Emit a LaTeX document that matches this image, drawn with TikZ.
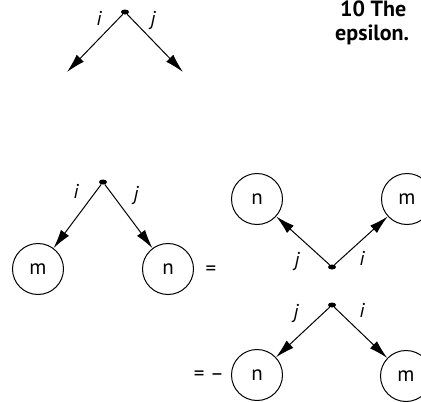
\documentclass[tikz,border=0pt]{standalone}
\usepackage{fontspec}
\setmainfont{PT Sans}
\usetikzlibrary{arrows.meta,shapes.geometric}
\tikzset{
  vtx/.style={ellipse, fill, inner sep=0pt, minimum width=8pt, minimum height=5pt},
  idx/.style={font=\fontsize{20}{24}\selectfont\itshape, inner sep=1pt},
  ket/.style={circle, draw, line width=1pt, minimum size=51pt, inner sep=0pt, font=\fontsize{21}{25}\selectfont},
  arr/.style={-{Latex[length=19pt,width=10pt]}, line width=1pt},
  eqsign/.style={font=\fontsize{21}{25}\selectfont, inner sep=0pt},
  captext/.style={anchor=base west, font=\fontsize{22}{26}\selectfont\bfseries, inner sep=0pt}
}
\begin{document}
\begin{tikzpicture}[x=1pt,y=-1pt]
  \useasboundingbox (0,0) rectangle (421,402);
  % caption
  \node[captext] (cap1) at (340,16) {10 The};
  \node[captext] (cap2) at (335,40) {epsilon.};
  % epsilon alone
  \node[vtx] (v0) at (125,12) {};
  \coordinate (l0) at (67,72);
  \coordinate (r0) at (183,72);
  \draw[arr] (v0) -- (l0);
  \draw[arr] (v0) -- (r0);
  \node[idx] (i0) at (99,18) {i};
  \node[idx] (j0) at (153,20) {j};
  % left side
  \node[vtx] (v1) at (103,182) {};
  \node[ket] (m1) at (38,269) {m};
  \node[ket] (n1) at (168,269) {n};
  \draw[arr] (v1) -- (m1);
  \draw[arr] (v1) -- (n1);
  \node[idx] (i1) at (76,191) {i};
  \node[idx] (j1) at (136,195) {j};
  \node[eqsign] (eq1) at (211,271) {=};
  % first right-hand term
  \node[vtx] (v2) at (332,267) {};
  \node[ket] (n2) at (257,199) {n};
  \node[ket] (m2) at (407,199) {m};
  \draw[arr] (v2) -- (n2);
  \draw[arr] (v2) -- (m2);
  \node[idx] (j2) at (297,261) {j};
  \node[idx] (i2) at (362,258) {i};
  % second right-hand term
  \node[vtx] (v3) at (332,305) {};
  \node[ket] (n3) at (257,375) {n};
  \node[ket] (m3) at (406,376) {m};
  \draw[arr] (v3) -- (n3);
  \draw[arr] (v3) -- (m3);
  \node[idx] (j3) at (296,313) {j};
  \node[idx] (i3) at (362,310) {i};
  \node[eqsign] (eq2) at (209,376) {= --};
\end{tikzpicture}
\end{document}
